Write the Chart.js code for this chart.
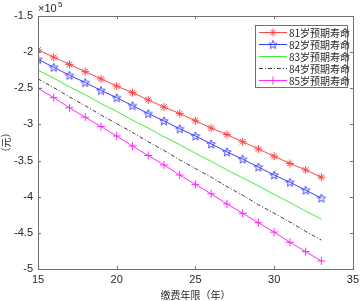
<!DOCTYPE html>
<html>
<head>
<meta charset="utf-8">
<script src="https://cdn.jsdelivr.net/npm/chart.js@4.4.0/dist/chart.umd.min.js"></script>
<style>
  html, body { margin: 0; padding: 0; background: #fff; }
  #wrap { width: 363px; height: 301px; }
</style>
</head>
<body>
<div id="wrap"><canvas id="grafico"></canvas></div>
<script>
// años de cotización (x) y valores en unidades de 10^5 yuan
const anios = [15,16,17,18,19,20,21,22,23,24,25,26,27,28,29,30,31,32,33];
const vida81 = [-1.97,-2.07,-2.17,-2.27,-2.37,-2.47,-2.56,-2.66,-2.76,-2.85,-2.95,-3.05,-3.14,-3.24,-3.34,-3.44,-3.54,-3.63,-3.73];
const vida82 = [-2.10,-2.21,-2.32,-2.42,-2.53,-2.63,-2.74,-2.85,-2.95,-3.06,-3.16,-3.27,-3.38,-3.48,-3.59,-3.70,-3.80,-3.91,-4.02];
const vida83 = [-2.25,-2.36,-2.48,-2.59,-2.71,-2.82,-2.94,-3.05,-3.17,-3.28,-3.40,-3.51,-3.63,-3.74,-3.85,-3.97,-4.08,-4.20,-4.31];
const vida84 = [-2.37,-2.49,-2.62,-2.74,-2.87,-2.99,-3.11,-3.24,-3.36,-3.49,-3.61,-3.73,-3.86,-3.98,-4.11,-4.23,-4.35,-4.48,-4.60];
const vida85 = [-2.50,-2.63,-2.77,-2.90,-3.03,-3.16,-3.30,-3.43,-3.56,-3.70,-3.83,-3.96,-4.10,-4.23,-4.36,-4.49,-4.63,-4.76,-4.89];
const etiquetas = ['81岁预期寿命','82岁预期寿命','83岁预期寿命','84岁预期寿命','85岁预期寿命'];
const ticksX = [15,20,25,30,35];
const ticksY = [-1.5,-2,-2.5,-3,-3.5,-4,-4.5,-5];

// estrella de cinco puntas para la serie 82
function pentagrama(color, r1) {
    const n = Math.ceil(r1 * 2 + 3);
    const c = document.createElement('canvas');
    c.width = n; c.height = n;
    const g = c.getContext('2d');
    g.strokeStyle = color; g.lineWidth = 0.9;
    g.beginPath();
    for (let i = 0; i < 10; i++) {
        const r = i % 2 === 0 ? r1 : r1 * 0.42;
        const a = -Math.PI / 2 + i * Math.PI / 5;
        const px = n / 2 + r * Math.cos(a), py = n / 2 + 0.4 + r * Math.sin(a);
        if (i === 0) g.moveTo(px, py); else g.lineTo(px, py);
    }
    g.closePath(); g.stroke();
    return c;
}

const rojo = 'rgb(255,70,70)';
const azul = 'rgb(60,60,255)';
const verde = 'rgb(60,240,60)';
const gris = 'rgb(60,60,60)';
const magenta = 'rgb(255,40,255)';

const series = [vida81, vida82, vida83, vida84, vida85];
const estilos = [
    { color: rojo, punto: 'star', radio: 4, dash: [] },
    { color: azul, punto: pentagrama(azul, 4.5), radio: 5, dash: [] },
    { color: verde, punto: false, radio: 0, dash: [] },
    { color: gris, punto: false, radio: 0, dash: [4, 2, 1, 2] },
    { color: magenta, punto: 'cross', radio: 4, dash: [] }
];

const datasets = series.map((s, i) => ({
    label: etiquetas[i],
    data: s.map((v, k) => ({ x: anios[k], y: v })),
    borderColor: estilos[i].color,
    backgroundColor: estilos[i].color,
    borderWidth: 1,
    borderDash: estilos[i].dash,
    pointStyle: estilos[i].punto,
    pointRadius: estilos[i].radio,
    pointBorderWidth: 1,
    pointBorderColor: estilos[i].color,
    tension: 0
}));

const fuenteNum = '"Liberation Sans", Arial, sans-serif';
const fuenteCJK = '"Noto Sans CJK SC", sans-serif';

// caja, marcas interiores, exponente y leyenda
const marco = {
    id: 'marco',
    afterDraw(chart) {
        const { ctx, chartArea: a, scales } = chart;
        ctx.save();
        ctx.strokeStyle = '#707070';
        ctx.lineWidth = 1;
        ctx.strokeRect(Math.round(a.left) + 0.5, Math.round(a.top) + 0.5,
            Math.round(a.right - a.left), Math.round(a.bottom - a.top));
        ctx.beginPath();
        ticksX.forEach(t => {
            const px = Math.round(scales.x.getPixelForValue(t)) + 0.5;
            ctx.moveTo(px, a.bottom); ctx.lineTo(px, a.bottom - 3);
            ctx.moveTo(px, a.top); ctx.lineTo(px, a.top + 3);
        });
        ticksY.forEach(t => {
            const py = Math.round(scales.y.getPixelForValue(t)) + 0.5;
            ctx.moveTo(a.left, py); ctx.lineTo(a.left + 3, py);
            ctx.moveTo(a.right, py); ctx.lineTo(a.right - 3, py);
        });
        ctx.stroke();

        // ×10^5
        ctx.fillStyle = '#262626';
        ctx.font = '11px ' + fuenteNum;
        ctx.textBaseline = 'alphabetic';
        ctx.textAlign = 'left';
        ctx.fillText('×10', a.left, a.top - 4);
        ctx.font = '8px ' + fuenteNum;
        ctx.fillText('5', a.left + 20, a.top - 9);

        // leyenda
        const lx = 255, ly = 25, lw = 92, lh = 62;
        ctx.fillStyle = '#fff';
        ctx.fillRect(lx, ly, lw, lh);
        ctx.strokeStyle = '#707070';
        ctx.strokeRect(lx + 0.5, ly + 0.5, lw, lh);
        chart.data.datasets.forEach((d, i) => {
            const y = ly + 7 + i * 12;
            ctx.strokeStyle = d.borderColor;
            ctx.setLineDash(d.borderDash);
            ctx.beginPath();
            ctx.moveTo(lx + 4, y + 0.5); ctx.lineTo(lx + 32, y + 0.5);
            ctx.stroke();
            ctx.setLineDash([]);
            if (d.pointStyle) {
                Chart.helpers.drawPoint(ctx, {
                    pointStyle: d.pointStyle, radius: d.pointRadius, borderWidth: 1, rotation: 0
                }, lx + 18, y + 0.5);
            }
            ctx.fillStyle = '#262626';
            ctx.font = '10px ' + fuenteCJK;
            ctx.textBaseline = 'middle';
            ctx.fillText(d.label, lx + 34, y + 1);
        });
        ctx.restore();
    }
};

const ctx = document.getElementById('grafico').getContext('2d');
const grafico = new Chart(ctx, {
    type: 'line',
    data: { datasets: datasets },
    options: {
        responsive: true,
        maintainAspectRatio: false,
        animation: false,
        layout: { padding: { top: 16, right: 6, left: 0, bottom: 0 } },
        plugins: { legend: { display: false }, tooltip: { enabled: false } },
        scales: {
            x: {
                type: 'linear',
                min: 15, max: 35,
                grid: { display: false, drawTicks: false },
                border: { display: false },
                afterBuildTicks: s => { s.ticks = ticksX.map(v => ({ value: v })); },
                afterFit: s => { s.height = 32; },
                ticks: { color: '#262626', font: { family: fuenteNum, size: 11 }, padding: 4, maxRotation: 0,
                    callback: v => String(v) },
                title: { display: true, text: '缴费年限（年）', color: '#262626', font: { family: fuenteCJK, size: 10 }, padding: { top: 1, bottom: 0 } }
            },
            y: {
                min: -5, max: -1.5,
                grid: { display: false, drawTicks: false },
                border: { display: false },
                afterBuildTicks: s => { s.ticks = ticksY.map(v => ({ value: v })); },
                afterFit: s => { s.width = 38; },
                ticks: { color: '#262626', font: { family: fuenteNum, size: 11 }, padding: 5,
                    callback: v => String(v) },
                title: { display: true, text: '（元）', color: '#262626', font: { family: fuenteCJK, size: 10 }, padding: { top: 0, bottom: 0 } }
            }
        }
    },
    plugins: [marco]
});
</script>
</body>
</html>
